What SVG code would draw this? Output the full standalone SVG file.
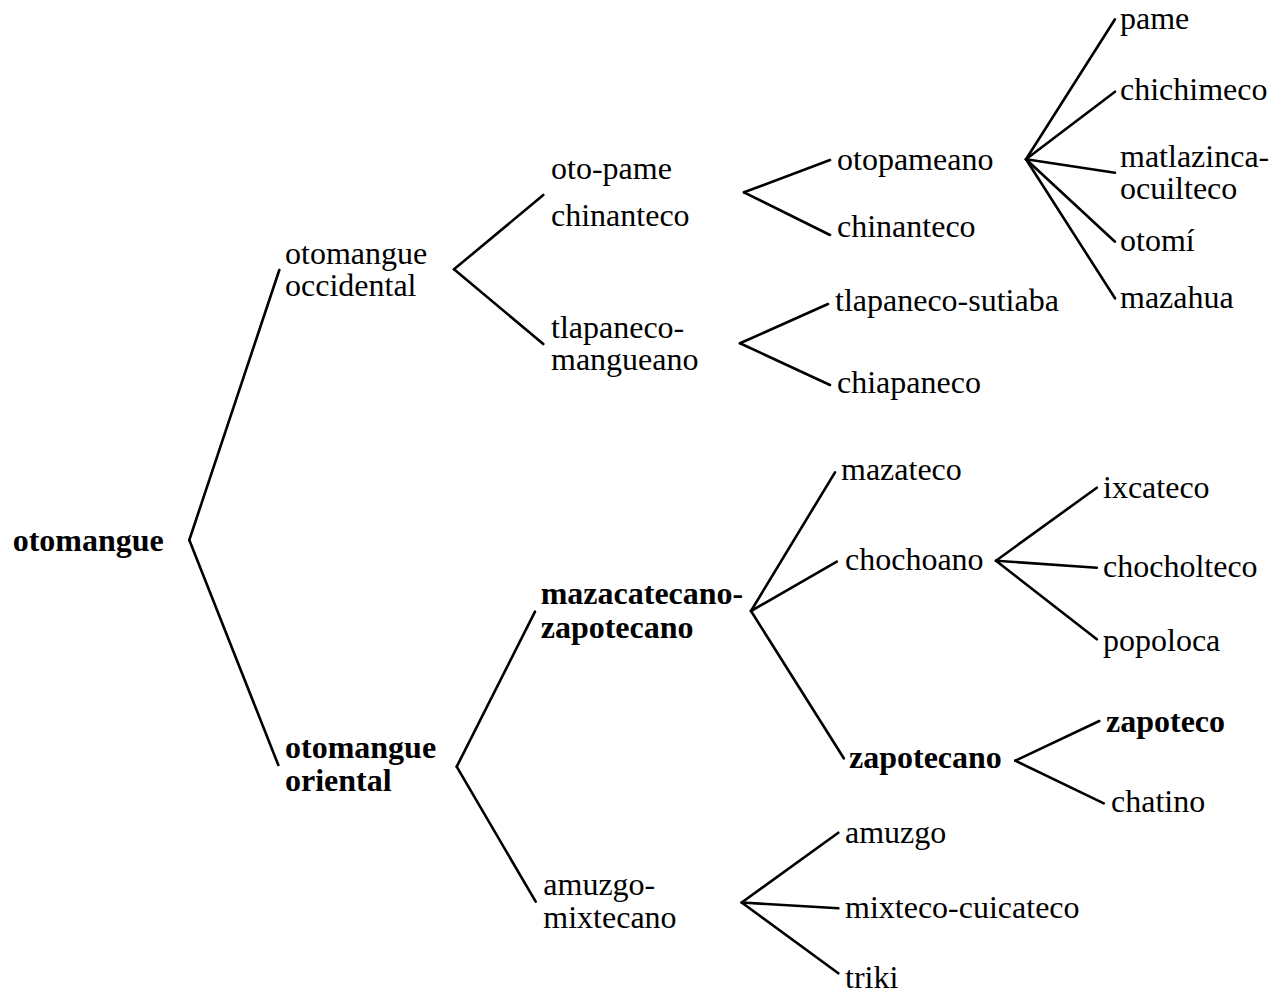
<svg xmlns="http://www.w3.org/2000/svg" width="1279" height="991" viewBox="0 0 1279 991">
<style>
text{font-family:"Liberation Serif","Times New Roman",serif;font-size:32px;fill:#000}
.b{font-weight:bold}
#connectors line{stroke:#000;stroke-width:2.6;stroke-linecap:round}
</style>
<rect width="1279" height="991" fill="#fff"/>
<g id="connectors">
<line x1="189.3" y1="540" x2="279.3" y2="270"/>
<line x1="189.3" y1="540" x2="278.3" y2="765"/>
<line x1="454" y1="269.3" x2="543.3" y2="195"/>
<line x1="454" y1="269.3" x2="543.3" y2="344"/>
<line x1="744" y1="192.3" x2="830" y2="160"/>
<line x1="744" y1="192.3" x2="830" y2="235"/>
<line x1="740" y1="343.3" x2="828" y2="304"/>
<line x1="740" y1="343.3" x2="830" y2="385"/>
<line x1="1026" y1="159.3" x2="1115" y2="19.3"/>
<line x1="1026" y1="159.3" x2="1115" y2="91.7"/>
<line x1="1026" y1="159.3" x2="1115" y2="172.7"/>
<line x1="1026" y1="159.3" x2="1115" y2="241.7"/>
<line x1="1026" y1="159.3" x2="1115" y2="298.3"/>
<line x1="456.7" y1="766.7" x2="535" y2="611.7"/>
<line x1="456.7" y1="766.7" x2="535.7" y2="901.7"/>
<line x1="751" y1="611" x2="835" y2="472.3"/>
<line x1="751" y1="611" x2="836.8" y2="561.7"/>
<line x1="751" y1="611" x2="843.8" y2="758.3"/>
<line x1="996" y1="560.7" x2="1096.8" y2="487.7"/>
<line x1="996" y1="560.7" x2="1096.8" y2="567.7"/>
<line x1="996" y1="560.7" x2="1096.8" y2="639.3"/>
<line x1="1015.3" y1="760.7" x2="1099.3" y2="721"/>
<line x1="1015.3" y1="760.7" x2="1103.8" y2="803.3"/>
<line x1="741.7" y1="902.5" x2="838.3" y2="832.7"/>
<line x1="741.7" y1="902.5" x2="838.3" y2="908.3"/>
<line x1="741.7" y1="902.5" x2="838.3" y2="973.3"/>
</g>
<g id="n-otomangue"><text class="b" x="12.7" y="551">otomangue</text></g>
<g id="n-occidental"><text x="285" y="264">otomangue</text><text x="285" y="296">occidental</text></g>
<g id="n-oriental"><text class="b" x="285" y="758.3">otomangue</text><text class="b" x="285" y="791">oriental</text></g>
<g id="n-otopame"><text x="551" y="179.3">oto-pame</text><text x="551" y="226">chinanteco</text></g>
<g id="n-tlapanecomangueano"><text x="551" y="337.7">tlapaneco-</text><text x="551" y="370">mangueano</text></g>
<g id="n-otopameano"><text x="837" y="170">otopameano</text></g>
<g id="n-chinanteco"><text x="837" y="237">chinanteco</text></g>
<g id="n-tlapanecosutiaba"><text x="835" y="310.7">tlapaneco-sutiaba</text></g>
<g id="n-chiapaneco"><text x="837" y="393.3">chiapaneco</text></g>
<g id="n-pame"><text x="1120" y="29">pame</text></g>
<g id="n-chichimeco"><text x="1120" y="100">chichimeco</text></g>
<g id="n-matlazinca"><text x="1120" y="167">matlazinca-</text><text x="1120" y="199">ocuilteco</text></g>
<g id="n-otomi"><text x="1120" y="251">otomí</text></g>
<g id="n-mazahua"><text x="1120" y="308">mazahua</text></g>
<g id="n-mazacatecano"><text class="b" x="540.7" y="604.3">mazacatecano-</text><text class="b" x="540.7" y="637.7">zapotecano</text></g>
<g id="n-amuzgomixtecano"><text x="543.3" y="895">amuzgo-</text><text x="543.3" y="928">mixtecano</text></g>
<g id="n-mazateco"><text x="841" y="480">mazateco</text></g>
<g id="n-chochoano"><text x="845" y="570">chochoano</text></g>
<g id="n-zapotecano"><text class="b" x="849" y="768.3">zapotecano</text></g>
<g id="n-ixcateco"><text x="1103" y="498.3">ixcateco</text></g>
<g id="n-chocholteco"><text x="1103" y="576.7">chocholteco</text></g>
<g id="n-popoloca"><text x="1103" y="650.7">popoloca</text></g>
<g id="n-zapoteco"><text class="b" x="1106" y="732.3">zapoteco</text></g>
<g id="n-chatino"><text x="1111" y="811.7">chatino</text></g>
<g id="n-amuzgo"><text x="845" y="842.7">amuzgo</text></g>
<g id="n-mixtecocuicateco"><text x="845" y="918.3">mixteco-cuicateco</text></g>
<g id="n-triki"><text x="845" y="988.3">triki</text></g>
</svg>
